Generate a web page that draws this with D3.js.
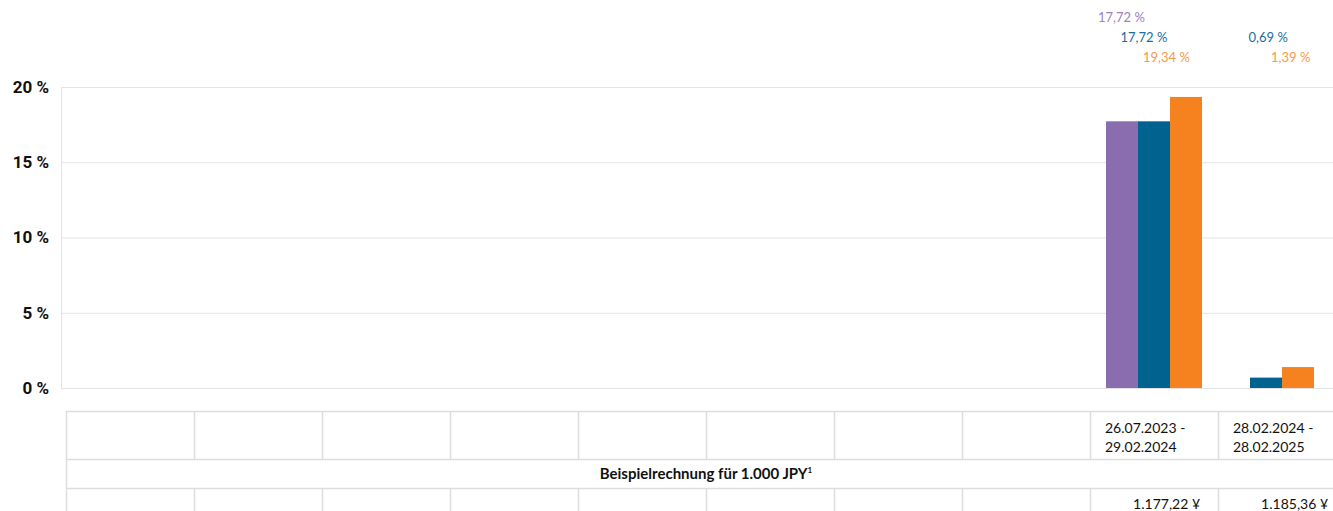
<!DOCTYPE html>
<html>
<head>
<meta charset="utf-8">
<script src="https://cdn.jsdelivr.net/npm/d3@7"></script>
<style>
  body { margin: 0; background: #fff; }
  svg { display: block; }
</style>
</head>
<body>
<div id="chart"></div>
<script>
// periods (table header), first eight slots are empty
var periods = ["", "", "", "", "", "", "", "", "26.07.2023 -\n29.02.2024", "28.02.2024 -\n28.02.2025"];
var exampleValues = ["", "", "", "", "", "", "", "", "1.177,22 ¥", "1.185,36 ¥"];
var seriesNames = ["Purple", "Blue", "Orange"];
var seriesColors = ["#8a6dae", "#00628f", "#f5821f"];
var labelColors = ["#9a83bf", "#1a6e9a", "#f59a4a"];
var purpleValues = [null, null, null, null, null, null, null, null, 17.72, null];
var blueValues = [null, null, null, null, null, null, null, null, 17.72, 0.69];
var orangeValues = [null, null, null, null, null, null, null, null, 19.34, 1.39];
var yTicks = [0, 5, 10, 15, 20];
var tableTitle = "Beispielrechnung für 1.000 JPY";

var W = 1333, H = 511;
var seriesValues = [purpleValues, blueValues, orangeValues];

var svg = d3.select("#chart").append("svg").attr("width", W).attr("height", H);

var idx = d3.range(periods.length);
var x = d3.scaleBand().domain(idx).range([66, 1346]).paddingInner(0).paddingOuter(0);
var y = d3.scaleLinear().domain([0, 20]).range([388, 87]);
var barW = 32;

// grid lines
var yAxis = d3.axisLeft(y).tickValues(yTicks).tickSize(-(W - 61)).tickPadding(12)
  .tickFormat(function(d) { return d + " %"; });
var ga = svg.append("g").attr("transform", "translate(61,0)").call(yAxis);
ga.select(".domain").remove();
ga.selectAll(".tick line").attr("stroke", "#e3e3e3");
ga.selectAll(".tick text").attr("fill", "#111").style("font-family", "Roboto")
  .style("font-weight", "bold").style("font-size", "17px");
svg.append("line").attr("x1", 61.5).attr("x2", 61.5).attr("y1", y(20)).attr("y2", y(0))
  .attr("stroke", "#e3e3e3");

// bars, centered on the present series of each period
idx.forEach(function(i) {
  var present = [];
  seriesValues.forEach(function(vals, s) { if (vals[i] !== null) present.push(s); });
  var c = x(i) + x.bandwidth() / 2;
  var start = c - present.length * barW / 2;
  present.forEach(function(s, k) {
    var v = seriesValues[s][i];
    svg.append("rect").attr("x", start + k * barW).attr("width", barW)
      .attr("y", y(v)).attr("height", y(0) - y(v)).attr("fill", seriesColors[s]);
  });
  // value labels above the chart
  present.forEach(function(s) {
    var v = seriesValues[s][i];
    svg.append("text").attr("x", c - 56 + s * 22.5).attr("y", 22 + s * 20)
      .attr("fill", labelColors[s]).style("font-family", "Lato").style("font-size", "13px")
      .text(d3.format(".2f")(v).replace(".", ",") + " %");
  });
});

// table below the chart
var line = function(x1, y1, x2, y2) {
  svg.append("line").attr("x1", x1).attr("y1", y1).attr("x2", x2).attr("y2", y2)
    .attr("stroke", "#dddddd").attr("stroke-width", 1.5);
};
[411.5, 459.5, 488.5].forEach(function(r) { line(66, r, 1346, r); });
line(66.5, 411, 66.5, 511);
idx.forEach(function(i) {
  if (i > 0) {
    line(x(i) + 0.5, 411, x(i) + 0.5, 459);
    line(x(i) + 0.5, 488, x(i) + 0.5, 511);
  }
  var parts = periods[i].split("\n");
  parts.forEach(function(p, k) {
    if (p) svg.append("text").attr("x", x(i) + 15).attr("y", 433 + k * 19)
      .attr("fill", "#111").style("font-family", "Lato").style("font-size", "14px").text(p);
  });
  if (exampleValues[i]) svg.append("text").attr("x", x(i) + x.bandwidth() - 18).attr("y", 509)
    .attr("text-anchor", "end").attr("fill", "#111").style("font-family", "Lato")
    .style("font-size", "14px").text(exampleValues[i]);
});
var tt = svg.append("text").attr("x", (66 + 1346) / 2).attr("y", 479).attr("text-anchor", "middle")
  .attr("fill", "#111").style("font-family", "Lato").style("font-weight", "bold").style("font-size", "15px");
tt.append("tspan").text(tableTitle);
tt.append("tspan").attr("dy", -6).style("font-size", "8px").text("1");
</script>
</body>
</html>
